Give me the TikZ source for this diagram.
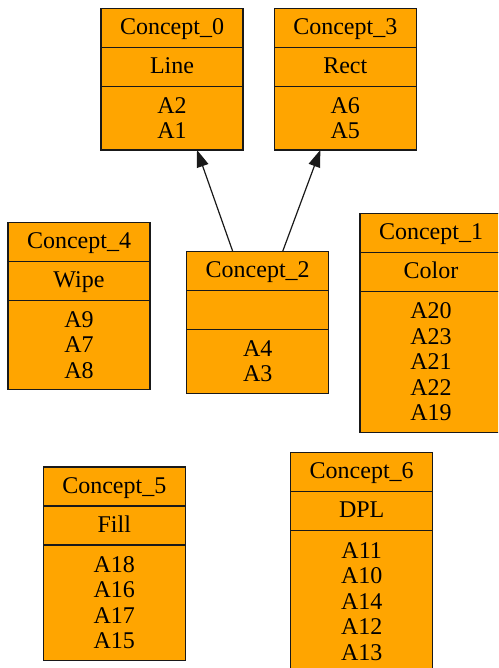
\documentclass[tikz,border=0pt]{standalone}
\usepackage{fontspec}
\setmainfont{Liberation Serif}
\usepackage{tikz}
\usetikzlibrary{positioning, arrows.meta}
\definecolor{box}{RGB}{255, 165, 0}
\definecolor{ink}{RGB}{25, 25, 25}

\begin{document}
\begin{tikzpicture}[x=1pt, y=1pt,
  cell/.style={draw=ink, fill=box, line width=1.2pt, minimum width=142pt,
    inner sep=0pt, outer sep=0pt, font=\fontsize{24}{25.5}\selectfont},
  head/.style={cell, anchor=north west, minimum height=39pt, text height=17pt, text depth=4pt},
  attr/.style={cell, minimum height=39pt, text height=17pt, text depth=4pt},
  list/.style={cell, align=center},
  isa/.style={-{Triangle[length=17pt, width=12pt]}, line width=1.2pt, draw=ink}]
  \useasboundingbox (0, 0) rectangle (498, -668);
  \clip (0, 0) rectangle (498, -668);

  % Concept_0
  \node [head] (c0) at (101, -8.5) {Concept\_0};
  \node [attr, below=0pt of c0] (c0a) {Line};
  \node [list, below=0pt of c0a, minimum height=63.5pt] (c0l) {A2\\A1};

  % Concept_3
  \node [head] (c3) at (274.3, -8.5) {Concept\_3};
  \node [attr, below=0pt of c3] (c3a) {Rect};
  \node [list, below=0pt of c3a, minimum height=63.5pt] (c3l) {A6\\A5};

  % Concept_4
  \node [head] (c4) at (8, -222.3) {Concept\_4};
  \node [attr, below=0pt of c4] (c4a) {Wipe};
  \node [list, below=0pt of c4a, minimum height=89.5pt] (c4l) {A9\\A7\\A8};

  % Concept_2
  \node [head] (c2) at (186.7, -251.3) {Concept\_2};
  \node [attr, below=0pt of c2] (c2a) {};
  \node [list, below=0pt of c2a, minimum height=64pt] (c2l) {A4\\A3};

  % Concept_1
  \node [head] (c1) at (360, -213.3) {Concept\_1};
  \node [attr, below=0pt of c1] (c1a) {Color};
  \node [list, below=0pt of c1a, minimum height=141pt] (c1l) {A20\\A23\\A21\\A22\\A19};

  % Concept_5
  \node [head] (c5) at (43.3, -467) {Concept\_5};
  \node [attr, below=0pt of c5] (c5a) {Fill};
  \node [list, below=0pt of c5a, minimum height=115.3pt] (c5l) {A18\\A16\\A17\\A15};

  % Concept_6
  \node [head] (c6) at (290.7, -452.7) {Concept\_6};
  \node [attr, below=0pt of c6] (c6a) {DPL};
  \node [list, below=0pt of c6a, minimum height=141pt] (c6l) {A11\\A10\\A14\\A12\\A13};

  % Edges
  \draw [isa] ([xshift=-25pt]c2.north) -- ([xshift=25pt]c0l.south);
  \draw [isa] ([xshift=25pt]c2.north) -- ([xshift=-25pt]c3l.south);
\end{tikzpicture}
\end{document}
